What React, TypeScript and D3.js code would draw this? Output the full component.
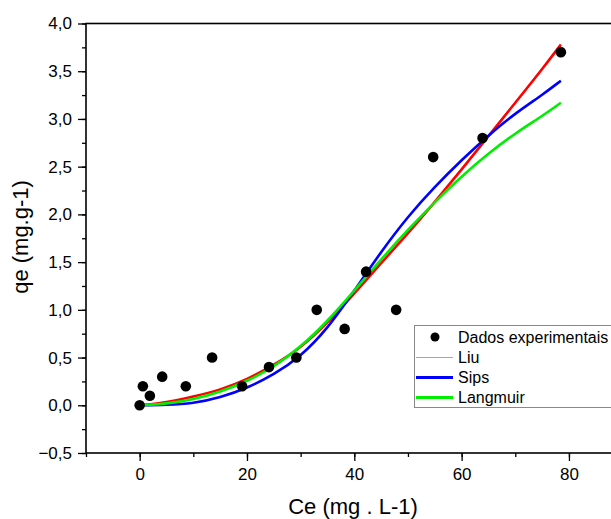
import React, { useEffect, useRef } from "react";
import * as d3 from "d3";

// experimental points
const ceData = [0, 0.6, 1.9, 4.2, 8.6, 13.5, 19.1, 24.1, 29.2, 33.0, 38.2, 42.2, 47.8, 54.7, 63.9, 78.5];
const qeData = [0, 0.2, 0.1, 0.3, 0.2, 0.5, 0.2, 0.4, 0.5, 1.0, 0.8, 1.4, 1.0, 2.6, 2.8, 3.7];

// fitted curves
const fitCe = [0, 5, 10, 15, 20, 25, 30, 35, 40, 45, 50, 55, 60, 65, 70, 75, 78.5];
const liuQe = [0, 0.03, 0.09, 0.16, 0.27, 0.42, 0.6, 0.86, 1.17, 1.49, 1.8, 2.13, 2.47, 2.82, 3.17, 3.52, 3.78];
const sipsQe = [0, 0.003, 0.02, 0.08, 0.18, 0.32, 0.51, 0.8, 1.2, 1.61, 1.98, 2.29, 2.57, 2.83, 3.06, 3.25, 3.4];
const langmuirQe = [0, 0.015, 0.06, 0.14, 0.25, 0.4, 0.61, 0.88, 1.2, 1.53, 1.84, 2.13, 2.4, 2.64, 2.85, 3.03, 3.17];

const xTicks = [0, 20, 40, 60, 80];
const yTicks = [-0.5, 0, 0.5, 1, 1.5, 2, 2.5, 3, 3.5, 4];
const legendNames = ["Dados experimentais", "Liu", "Sips", "Langmuir"];

const W = 611;
const H = 519;
const FONT = "'Liberation Sans', Arial, sans-serif";

const App = () => {
  const svgRef = useRef(null);

  useEffect(() => {
    const svg = d3.select(svgRef.current);
    svg.selectAll("*").remove();

    const x = d3.scaleLinear().domain([-10, 90]).range([86, 622.6]);
    const y = d3.scaleLinear().domain([-0.5, 4]).range([453, 23.5]);
    const fmt = (d) => d3.format(".1f")(d).replace(".", ",");

    // minor ticks first
    const yMinor = d3.axisLeft(y).tickValues(d3.range(-0.5, 4.01, 0.25)).tickSize(4).tickFormat(() => "");
    svg.append("g").attr("transform", "translate(86,0)").call(yMinor)
      .call((g) => g.select(".domain").remove())
      .selectAll("line").attr("stroke", "#000").attr("stroke-width", 1.3);
    const xMinor = d3.axisBottom(x).tickValues(d3.range(-10, 91, 10)).tickSize(4).tickFormat(() => "");
    svg.append("g").attr("transform", "translate(0,453)").call(xMinor)
      .call((g) => g.select(".domain").remove())
      .selectAll("line").attr("stroke", "#000").attr("stroke-width", 1.3);

    // major ticks with labels
    const yAxis = d3.axisLeft(y).tickValues(yTicks).tickSize(8).tickPadding(6).tickFormat(fmt);
    const gy = svg.append("g").attr("transform", "translate(86,0)").call(yAxis);
    gy.select(".domain").remove();
    gy.selectAll("line").attr("stroke", "#000").attr("stroke-width", 1.3);
    gy.selectAll("text").attr("font-family", FONT).attr("font-size", 17).attr("fill", "#000");

    const xAxis = d3.axisBottom(x).tickValues(xTicks).tickSize(8).tickPadding(7).tickFormat(d3.format("d"));
    const gx = svg.append("g").attr("transform", "translate(0,453)").call(xAxis);
    gx.select(".domain").remove();
    gx.selectAll("line").attr("stroke", "#000").attr("stroke-width", 1.3);
    gx.selectAll("text").attr("font-family", FONT).attr("font-size", 17).attr("fill", "#000");

    // frame
    svg.append("rect")
      .attr("x", 86).attr("y", 23.5)
      .attr("width", 622.6 - 86).attr("height", 453 - 23.5)
      .attr("fill", "none").attr("stroke", "#000").attr("stroke-width", 1.6);

    // fitted curves
    const line = d3.line().x((d) => x(d[0])).y((d) => y(d[1])).curve(d3.curveBasis);
    const series = [
      { vals: liuQe, color: "#ff0000" },
      { vals: sipsQe, color: "#0000ff" },
      { vals: langmuirQe, color: "#00ee00" },
    ];
    series.forEach((s) => {
      svg.append("path")
        .datum(fitCe.map((c, i) => [c, s.vals[i]]))
        .attr("d", line)
        .attr("fill", "none")
        .attr("stroke", s.color)
        .attr("stroke-width", 2.6);
    });

    // experimental points
    svg.selectAll(".pt")
      .data(ceData.map((c, i) => [c, qeData[i]]))
      .join("circle")
      .attr("class", "pt")
      .attr("cx", (d) => x(d[0]))
      .attr("cy", (d) => y(d[1]))
      .attr("r", 5.3)
      .attr("fill", "#000");

    // legend
    const lg = svg.append("g");
    lg.append("rect")
      .attr("x", 414.5).attr("y", 325.5).attr("width", 240).attr("height", 82)
      .attr("fill", "#fff").attr("stroke", "#888").attr("stroke-width", 1);
    const rowY = [337, 357.5, 377.5, 397.5];
    lg.append("circle").attr("cx", 435).attr("cy", rowY[0]).attr("r", 4.5).attr("fill", "#000");
    lg.append("line").attr("x1", 416).attr("x2", 453).attr("y1", rowY[1]).attr("y2", rowY[1])
      .attr("stroke", "#ff8080").attr("stroke-width", 1);
    lg.append("line").attr("x1", 416).attr("x2", 453).attr("y1", rowY[2]).attr("y2", rowY[2])
      .attr("stroke", "#0000ff").attr("stroke-width", 2.8);
    lg.append("line").attr("x1", 416).attr("x2", 453).attr("y1", rowY[3]).attr("y2", rowY[3])
      .attr("stroke", "#00ee00").attr("stroke-width", 2.8);
    lg.selectAll(".lt")
      .data(legendNames)
      .join("text")
      .attr("class", "lt")
      .attr("x", 458)
      .attr("y", (d, i) => rowY[i] + 5.5)
      .attr("font-family", FONT)
      .attr("font-size", 16)
      .attr("fill", "#000")
      .text((d) => d);

    // axis titles
    svg.append("text")
      .attr("x", 353).attr("y", 514)
      .attr("text-anchor", "middle")
      .attr("font-family", FONT).attr("font-size", 22).attr("fill", "#000")
      .text("Ce (mg . L-1)");
    svg.append("text")
      .attr("transform", "translate(28,237) rotate(-90)")
      .attr("text-anchor", "middle")
      .attr("font-family", FONT).attr("font-size", 22).attr("fill", "#000")
      .text("qe (mg.g-1)");
  }, []);

  return (
    <div>
      <svg
        ref={svgRef}
        width={W}
        height={H}
        style={{ position: "absolute", left: 0, top: 0, background: "#fff" }}
      />
    </div>
  );
};

export default App;
